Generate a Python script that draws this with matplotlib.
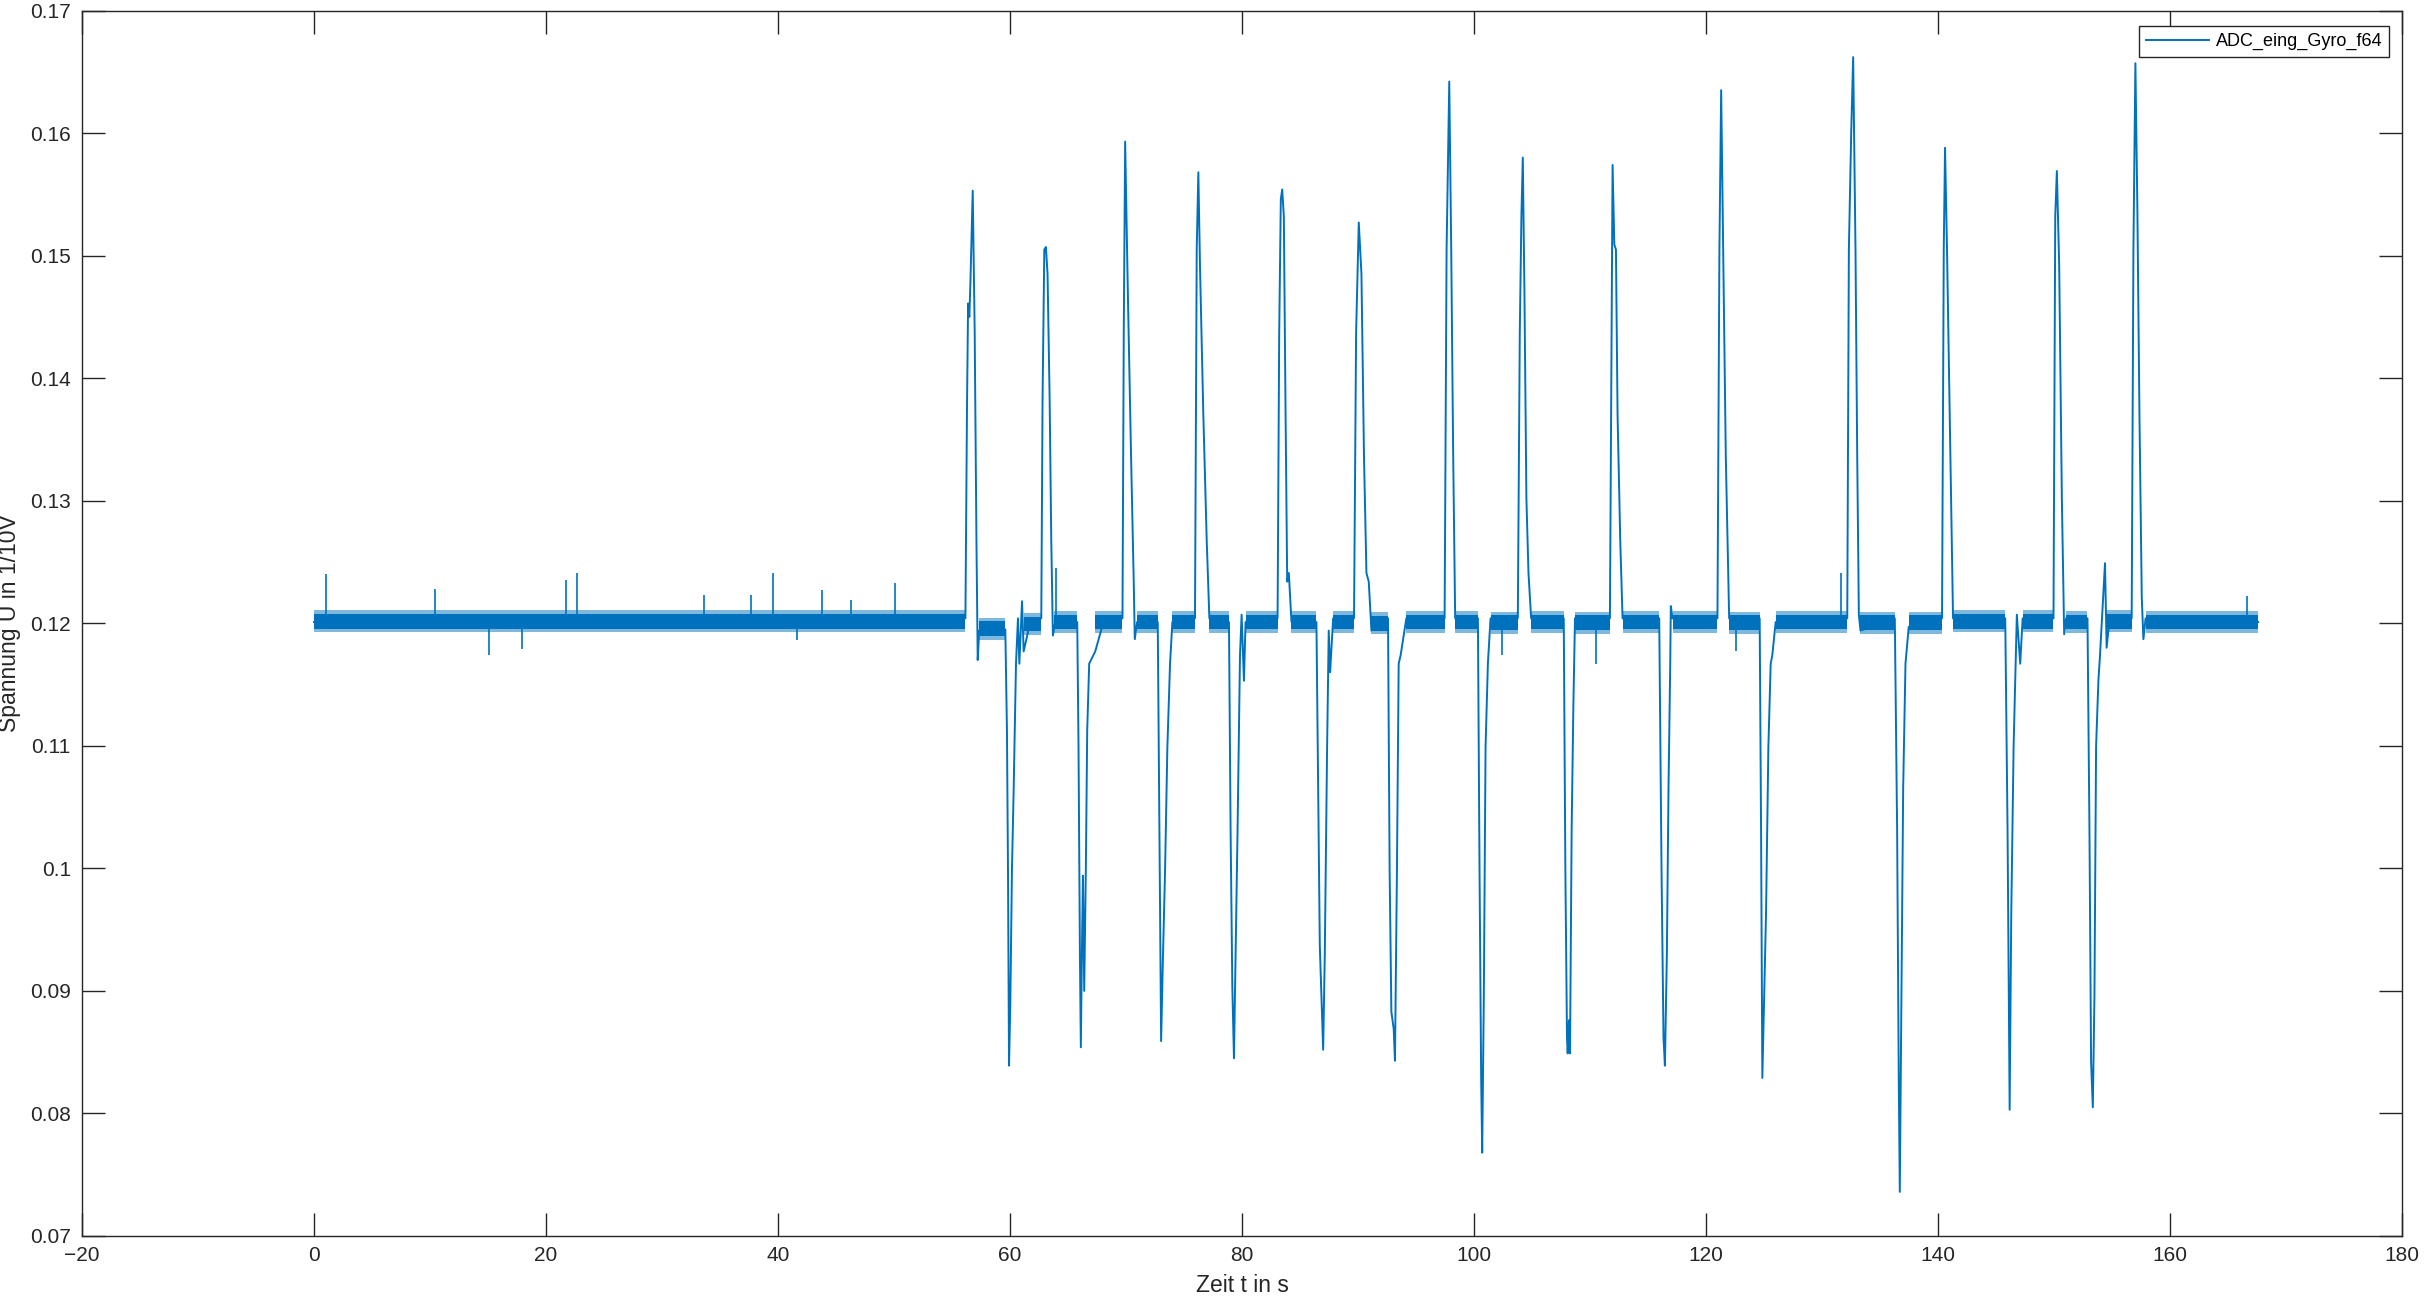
import matplotlib
matplotlib.use("Agg")
import matplotlib.pyplot as plt
from matplotlib.ticker import FuncFormatter

# key points of the trace (time in s, voltage in 1/10 V)
t_key = [
    0.0, 56.16, 56.30, 56.39, 56.50, 56.59, 56.79, 56.96, 57.11, 57.22, 57.35,
    59.60, 59.74, 59.83, 59.92, 60.03, 60.17, 60.32, 60.52, 60.69, 60.81, 61.04, 61.18, 61.75,
    62.70, 62.81, 62.96, 63.10, 63.24, 63.42, 63.56, 63.70, 63.90,
    65.80, 65.91, 66.03, 66.11, 66.20, 66.29, 66.40, 66.54, 66.66, 66.83, 67.35, 68.06,
    69.70, 69.81, 69.93, 70.16, 70.44, 70.67, 70.76, 70.96,
    72.74, 72.88, 73.03, 73.17, 73.37, 73.57, 73.80, 74.00,
    75.95, 76.10, 76.24, 76.38, 76.67, 76.96, 77.19,
    78.88, 79.02, 79.17, 79.31, 79.45, 79.62, 79.83, 79.97, 80.17, 80.31,
    83.07, 83.21, 83.35, 83.47, 83.61, 83.76, 83.90, 84.04, 84.27,
    86.42, 86.57, 86.71, 86.85, 87.00, 87.14, 87.34, 87.48, 87.60, 87.86,
    89.66, 89.84, 90.07, 90.30, 90.52, 90.73, 90.93, 91.16,
    92.59, 92.73, 92.88, 93.08, 93.19, 93.36, 93.51, 93.68, 94.17,
    97.47, 97.64, 97.87, 98.04, 98.21, 98.38,
    100.34, 100.48, 100.62, 100.71, 100.85, 101.00, 101.20, 101.43,
    103.78, 103.95, 104.09, 104.21, 104.35, 104.52, 104.70, 104.93,
    107.74, 107.88, 108.02, 108.08, 108.19, 108.28, 108.42, 108.57, 108.71,
    111.72, 111.87, 111.95, 112.10, 112.24, 112.38, 112.61, 112.81,
    115.97, 116.17, 116.34, 116.46, 116.63, 116.77, 116.92, 116.97, 117.12,
    120.99, 121.16, 121.31, 121.48, 121.71, 122.00,
    124.63, 124.75, 124.86, 125.00, 125.18, 125.38, 125.58, 125.72, 126.01,
    132.18, 132.32, 132.52, 132.69, 132.89, 133.04, 133.18, 133.32,
    136.28, 136.48, 136.62, 136.71, 136.85, 137.00, 137.20, 137.48,
    140.35, 140.50, 140.61, 140.78, 141.07, 141.30,
    145.80, 146.00, 146.18, 146.32, 146.52, 146.80, 147.09, 147.30,
    149.96, 150.11, 150.25, 150.45, 150.68, 150.88, 151.05,
    152.89, 153.06, 153.20, 153.35, 153.49, 153.63, 153.83, 153.97, 154.40, 154.54, 154.80,
    156.70, 156.85, 157.02, 157.19, 157.37, 157.57, 157.71, 157.90,
    167.61,
]
u_key = [
    0.1201, 0.1204, 0.1380, 0.1461, 0.1450, 0.1478, 0.1553, 0.1437, 0.1268, 0.1170, 0.1194,
    0.1195, 0.1113, 0.0998, 0.0839, 0.0889, 0.0998, 0.1065, 0.1167, 0.1204, 0.1167, 0.1218, 0.1177, 0.1201,
    0.1204, 0.1383, 0.1505, 0.1507, 0.1485, 0.1383, 0.1268, 0.1190, 0.1201,
    0.1201, 0.1099, 0.0930, 0.0854, 0.0930, 0.0994, 0.0900, 0.0998, 0.1113, 0.1167, 0.1177, 0.1201,
    0.1204, 0.1437, 0.1593, 0.1471, 0.1336, 0.1234, 0.1187, 0.1201,
    0.1201, 0.1031, 0.0859, 0.0920, 0.0998, 0.1099, 0.1167, 0.1201,
    0.1204, 0.1505, 0.1568, 0.1492, 0.1370, 0.1268, 0.1204,
    0.1201, 0.1031, 0.0903, 0.0845, 0.0930, 0.1031, 0.1174, 0.1207, 0.1153, 0.1201,
    0.1204, 0.1437, 0.1546, 0.1554, 0.1532, 0.1370, 0.1234, 0.1241, 0.1201,
    0.1201, 0.1065, 0.0937, 0.0896, 0.0852, 0.0930, 0.1099, 0.1194, 0.1160, 0.1204,
    0.1204, 0.1437, 0.1527, 0.1485, 0.1336, 0.1241, 0.1234, 0.1194,
    0.1204, 0.0998, 0.0883, 0.0869, 0.0843, 0.0998, 0.1167, 0.1174, 0.1204,
    0.1204, 0.1505, 0.1642, 0.1505, 0.1336, 0.1204,
    0.1204, 0.0998, 0.0829, 0.0768, 0.0896, 0.1099, 0.1167, 0.1204,
    0.1204, 0.1437, 0.1532, 0.1580, 0.1471, 0.1302, 0.1241, 0.1204,
    0.1204, 0.0998, 0.0862, 0.0849, 0.0876, 0.0849, 0.1031, 0.1133, 0.1204,
    0.1204, 0.1437, 0.1574, 0.1509, 0.1505, 0.1370, 0.1268, 0.1204,
    0.1204, 0.0998, 0.0862, 0.0839, 0.0930, 0.1065, 0.1167, 0.1214, 0.1204,
    0.1204, 0.1505, 0.1635, 0.1505, 0.1336, 0.1204,
    0.1204, 0.1031, 0.0829, 0.0889, 0.0964, 0.1099, 0.1167, 0.1174, 0.1201,
    0.1204, 0.1505, 0.1600, 0.1662, 0.1505, 0.1336, 0.1207, 0.1194,
    0.1204, 0.1031, 0.0829, 0.0736, 0.0896, 0.1065, 0.1167, 0.1197,
    0.1204, 0.1505, 0.1588, 0.1505, 0.1336, 0.1204,
    0.1204, 0.1031, 0.0803, 0.0964, 0.1099, 0.1207, 0.1167, 0.1204,
    0.1204, 0.1532, 0.1569, 0.1492, 0.1302, 0.1191, 0.1204,
    0.1204, 0.1031, 0.0842, 0.0805, 0.0896, 0.1099, 0.1153, 0.1174, 0.1249, 0.1180, 0.1204,
    0.1204, 0.1505, 0.1657, 0.1539, 0.1370, 0.1221, 0.1187, 0.1204,
    0.1201,
]

# single-sample glitches on the baseline
spike_t = [1.07, 10.4, 15.1, 17.9, 21.7, 22.7, 33.6, 37.7, 39.6, 41.6, 43.8,
           46.3, 50.1, 63.96, 102.40, 110.52, 122.57, 131.60, 166.60]
spike_u = [0.1240, 0.1228, 0.1174, 0.1179, 0.1235, 0.1241, 0.1223, 0.1223,
           0.1241, 0.1186, 0.1227, 0.1219, 0.1233, 0.1245, 0.1174, 0.1167,
           0.1177, 0.1241, 0.1222]

# stretches where the signal sits at rest, with the width of its noise band
rest_start = [0.0, 57.35, 61.18, 63.80, 67.35, 70.96, 74.00, 77.19, 80.31,
              84.27, 87.86, 91.16, 94.17, 98.38, 101.43, 104.93, 108.71,
              112.81, 117.12, 122.00, 126.01, 133.32, 137.48, 141.30, 147.30,
              151.05, 154.54, 157.90]
rest_end = [56.16, 59.60, 62.70, 65.80, 69.70, 72.74, 75.95, 78.88, 83.07,
            86.42, 89.66, 92.59, 97.47, 100.34, 103.78, 107.74, 111.72,
            115.97, 120.99, 124.63, 132.18, 136.28, 140.35, 145.80, 149.96,
            152.89, 156.70, 167.61]
rest_level = [0.12015, 0.11955, 0.11995, 0.12010, 0.12010, 0.12010, 0.12010,
              0.12010, 0.12010, 0.12010, 0.12010, 0.12000, 0.12010, 0.12010,
              0.12005, 0.12010, 0.12005, 0.12010, 0.12010, 0.12005, 0.12010,
              0.12005, 0.12005, 0.12015, 0.12015, 0.12010, 0.12015, 0.12010]
noise_core = 0.0006
noise_fringe = 0.0009

x_ticks = [-20, 0, 20, 40, 60, 80, 100, 120, 140, 160, 180]
y_ticks = [0.07, 0.08, 0.09, 0.10, 0.11, 0.12, 0.13, 0.14, 0.15, 0.16, 0.17]

blue = "#0072BD"
dark = "#262626"

plt.rcParams["font.family"] = ["Liberation Sans", "DejaVu Sans"]

fig = plt.figure(figsize=(24.25, 12.99), dpi=100)
ax = fig.add_axes([0.0338, 0.0485, 0.9567, 0.9434])

for s, e, lv in zip(rest_start, rest_end, rest_level):
    ax.fill_between([s, e], [lv - noise_fringe] * 2, [lv + noise_fringe] * 2,
                    color=blue, alpha=0.5, lw=0)
    ax.fill_between([s, e], [lv - noise_core] * 2, [lv + noise_core] * 2,
                    color=blue, lw=0)

ax.vlines(spike_t, 0.1201, spike_u, color=blue, lw=1.2)
ax.plot(t_key, u_key, color=blue, lw=1.4, label="ADC_eing_Gyro_f64")

ax.set_xlim(-20, 180)
ax.set_ylim(0.07, 0.17)
ax.set_xticks(x_ticks)
ax.set_yticks(y_ticks)
ax.yaxis.set_major_formatter(FuncFormatter(lambda v, p: "%g" % round(v, 4)))

ax.tick_params(direction="in", length=16.5, width=1, color=dark,
               labelcolor=dark, labelsize=15, top=True, right=True)
ax.tick_params(axis="y", pad=8)
ax.tick_params(axis="x", pad=7)
for sp in ax.spines.values():
    sp.set_color(dark)
    sp.set_linewidth(1)

ax.set_xlabel("Zeit t in s", fontsize=16.5, color=dark)
ax.set_ylabel("Spannung U in 1/10V", fontsize=16.5, color=dark)
ax.xaxis.set_label_coords(0.5, -0.031)
ax.yaxis.set_label_coords(-0.0262, 0.5)

leg = ax.legend(loc="upper right", bbox_to_anchor=(0.9944, 0.9874),
                borderaxespad=0, fontsize=13, handlelength=3.5,
                handletextpad=0.35, borderpad=0.38, fancybox=False,
                framealpha=1, edgecolor=dark)
leg.get_frame().set_linewidth(1)

fig.savefig("out.png", dpi=100)
